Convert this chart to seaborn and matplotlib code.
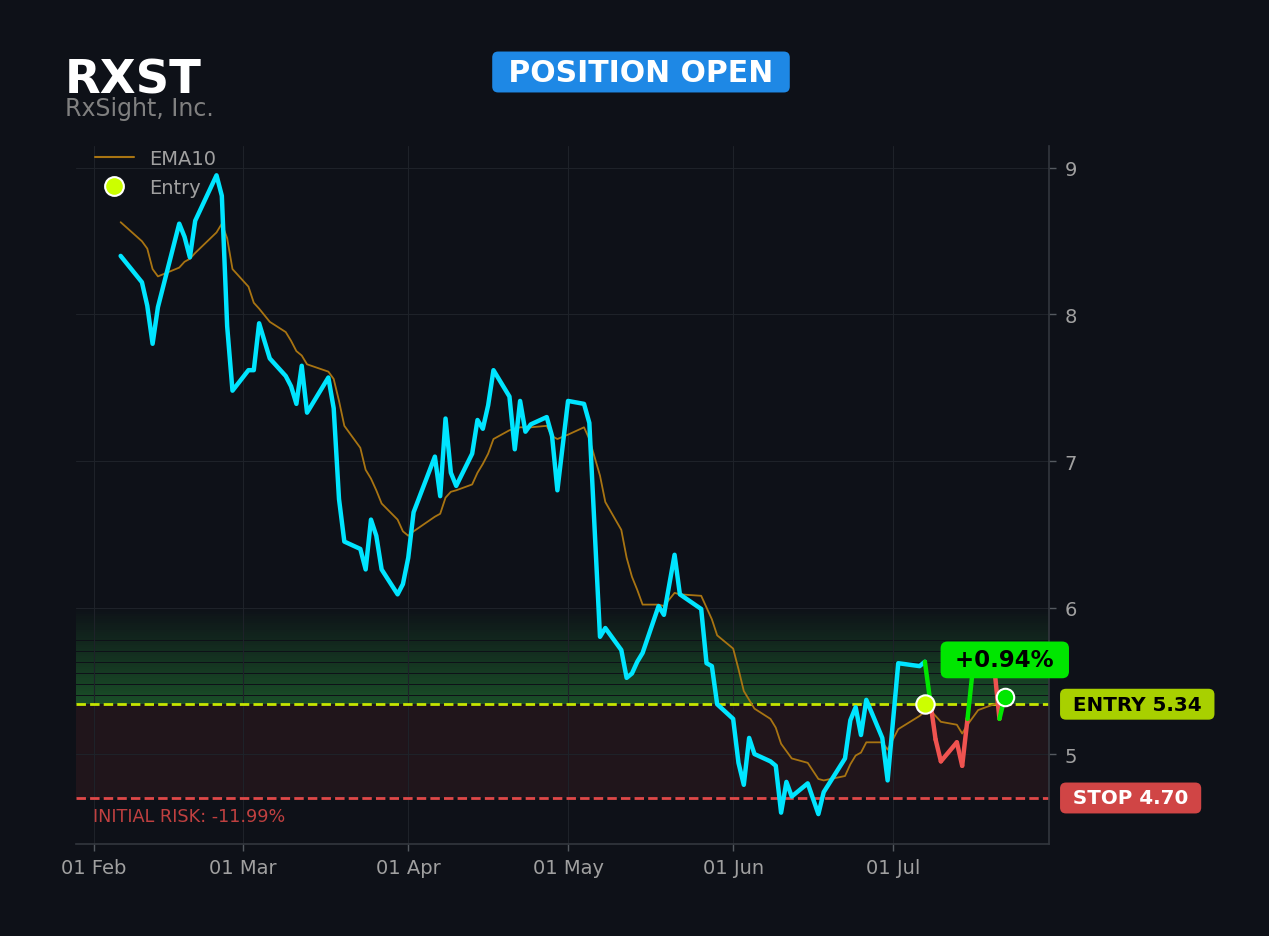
import numpy as np
import pandas as pd
import matplotlib
matplotlib.use('Agg')
import matplotlib.pyplot as plt
import matplotlib.dates as mdates
from matplotlib.lines import Line2D
import seaborn as sns

# ---------------- data ----------------
ticker = "RXST"
company = "RxSight, Inc."
status = "POSITION OPEN"
base_date = "2025-02-01"          # day offsets below are counted from this date

close_day = [5, 9, 10, 11, 12, 16, 17, 18, 19, 23, 24, 25, 26, 29, 30, 31, 33,
             36, 37, 38, 39, 40, 44, 45, 46, 47, 50, 51, 52, 53, 54, 57, 58, 59, 60,
             64, 65, 66, 67, 68, 71, 72, 73, 74, 75, 78, 79, 80, 81, 82, 85, 86, 87, 89,
             92, 93, 95, 96, 99, 100, 101, 102, 103, 106, 107, 109, 110, 114, 115, 116, 117,
             120, 121, 122, 123, 124, 127, 128, 129, 130, 131, 134, 136, 137,
             141, 142, 143, 144, 145, 148, 149, 151, 155, 156, 157, 158, 159,
             162, 163, 164, 165, 166, 169, 170, 171]

close = [8.40, 8.22, 8.06, 7.80, 8.05, 8.62, 8.53, 8.39, 8.64, 8.95, 8.81, 7.92, 7.48,
         7.62, 7.62, 7.94, 7.70, 7.58, 7.51, 7.39, 7.65, 7.33, 7.57, 7.36, 6.74, 6.45,
         6.40, 6.26, 6.60, 6.49, 6.26, 6.09, 6.16, 6.34, 6.65, 7.03, 6.76, 7.29, 6.92, 6.83,
         7.05, 7.28, 7.22, 7.38, 7.62, 7.44, 7.08, 7.41, 7.20, 7.25, 7.30, 7.17, 6.80, 7.41,
         7.39, 7.26, 5.80, 5.86, 5.71, 5.52, 5.55, 5.63, 5.69, 6.01, 5.95, 6.36, 6.09,
         5.99, 5.62, 5.60, 5.34, 5.24, 4.94, 4.79, 5.11, 5.00, 4.95, 4.92, 4.60, 4.81, 4.71,
         4.80, 4.59, 4.74, 4.97, 5.23, 5.32, 5.13, 5.37, 5.11, 4.82, 5.62,
         5.60, 5.63, 5.36, 5.10, 4.95, 5.08, 4.92, 5.24, 5.58, 5.55, 5.60, 5.24, 5.39]

ema10 = [8.63, 8.50, 8.45, 8.31, 8.26, 8.32, 8.36, 8.38, 8.42, 8.56, 8.62, 8.52, 8.31,
         8.19, 8.08, 8.04, 7.95, 7.88, 7.82, 7.75, 7.72, 7.66, 7.61, 7.56, 7.41, 7.24,
         7.09, 6.94, 6.88, 6.80, 6.71, 6.60, 6.52, 6.49, 6.52, 6.62, 6.64, 6.75, 6.79, 6.80,
         6.84, 6.92, 6.98, 7.05, 7.15, 7.21, 7.22, 7.23, 7.23, 7.23, 7.24, 7.17, 7.15, 7.18,
         7.23, 7.15, 6.90, 6.72, 6.53, 6.34, 6.21, 6.12, 6.02, 6.02, 6.01, 6.10, 6.09,
         6.08, 6.00, 5.92, 5.81, 5.72, 5.58, 5.43, 5.37, 5.31, 5.24, 5.18, 5.07, 5.02, 4.97,
         4.94, 4.83, 4.82, 4.85, 4.93, 4.99, 5.01, 5.08, 5.08, 5.03, 5.17,
         5.26, 5.29, 5.30, 5.26, 5.22, 5.20, 5.14, 5.20, 5.25, 5.30, 5.34, 5.35, 5.36]

entry_day = 156
entry_price = 5.34
stop_price = 4.70
target_price = 6.00
y_ticks = [5, 6, 7, 8, 9]

# ---------------- style ----------------
BG = '#0e1118'
CYAN = '#00e5ff'
EMA_C = '#a87412'
GREEN = '#00e600'
RED = '#ef5350'
ENTRY_C = '#c6e600'
STOP_C = '#e04848'
TXT = '#a0a0a0'

sns.set_theme(style='dark', rc={
    'figure.facecolor': BG, 'axes.facecolor': BG, 'savefig.facecolor': BG,
    'text.color': TXT, 'axes.labelcolor': TXT,
    'xtick.color': TXT, 'ytick.color': TXT,
})
plt.rcParams['font.family'] = ['DejaVu Sans']

base = pd.Timestamp(base_date)
df = pd.DataFrame({
    'date': base + pd.to_timedelta(close_day, unit='D'),
    'close': close,
    'ema': ema10,
})
entry_date = base + pd.Timedelta(days=entry_day)

W, H = 1269, 937
fig = plt.figure(figsize=(W / 100, H / 100), dpi=100, facecolor=BG)
ax = fig.add_axes([76 / W, 1 - 845 / H, (1049 - 76) / W, (845 - 147) / H])
ax.set_facecolor(BG)

# zones
n = 44
edges = np.linspace(entry_price, target_price, n + 1)
for k in range(n):
    ax.axhspan(edges[k], edges[k + 1] - 0.0012, color='#2fb844',
               alpha=0.37 * (1 - k / n), lw=0, zorder=0.5)
ax.axhspan(stop_price, entry_price, color='#e64646', alpha=0.088, lw=0, zorder=0.5)

ax.axhline(entry_price, color=ENTRY_C, lw=2, ls=(0, (3.4, 1.5)), zorder=2)
ax.axhline(stop_price, color=STOP_C, lw=2, ls=(0, (3.4, 1.5)), zorder=2)

# EMA and price
sns.lineplot(data=df, x='date', y='ema', ax=ax, color=EMA_C, lw=1.3,
             legend=False, zorder=3)
pre = df[df['date'] <= entry_date]
sns.lineplot(data=pre, x='date', y='close', ax=ax, color=CYAN, lw=3.2,
             legend=False, zorder=4)

post = df[df['date'] >= entry_date].reset_index(drop=True)
for i in range(len(post) - 1):
    seg = post.iloc[i:i + 2]
    col = GREEN if seg['close'].iloc[1] >= entry_price else RED
    ax.plot(seg['date'], seg['close'], color=col, lw=3.2, zorder=5)

ax.scatter([entry_date], [entry_price], s=175, color='#ccff00', edgecolor='white',
           linewidth=1.5, zorder=7)
last_date = df['date'].iloc[-1]
last_close = df['close'].iloc[-1]
ax.scatter([last_date], [last_close], s=158, color=GREEN, edgecolor='white',
           linewidth=1.5, zorder=7)

pnl = (last_close / entry_price - 1) * 100
ax.annotate(f" {pnl:+.2f}% ", xy=(last_date, last_close), xytext=(0, 37),
            textcoords='offset pixels', ha='center', va='center', fontsize=16.5,
            fontweight='bold', color='black', zorder=9, annotation_clip=False,
            bbox=dict(boxstyle='round,pad=0.3,rounding_size=0.3', fc=GREEN, ec='none'))

ax.annotate(f" ENTRY {entry_price:.2f} ", xy=(1, entry_price),
            xycoords=('axes fraction', 'data'), xytext=(17, 0), textcoords='offset pixels',
            ha='left', va='center', fontsize=14.3, fontweight='bold', color='black',
            annotation_clip=False,
            bbox=dict(boxstyle='round,pad=0.3,rounding_size=0.3', fc='#a8d000', ec='none'))
ax.annotate(f" STOP {stop_price:.2f} ", xy=(1, stop_price),
            xycoords=('axes fraction', 'data'), xytext=(17, 0), textcoords='offset pixels',
            ha='left', va='center', fontsize=14.3, fontweight='bold', color='white',
            annotation_clip=False,
            bbox=dict(boxstyle='round,pad=0.3,rounding_size=0.3', fc='#d04545', ec='none'))

risk = (stop_price / entry_price - 1) * 100
ax.annotate(f"INITIAL RISK: {risk:.2f}%", xy=(0.0175, stop_price),
            xycoords=('axes fraction', 'data'), xytext=(0, -18), textcoords='offset pixels',
            ha='left', va='center', fontsize=12.7, color='#c04040')

# axes cosmetics
ax.set_xlim(base - pd.Timedelta(days=3.38), base + pd.Timedelta(days=179.3))
ax.set_ylim(4.386, 9.15)
ax.set_yticks(y_ticks)
ax.yaxis.tick_right()
ax.xaxis.set_major_locator(mdates.MonthLocator())
ax.xaxis.set_major_formatter(mdates.DateFormatter('%d %b'))
ax.set_xlabel('')
ax.set_ylabel('')
ax.grid(True, color='#1e2229', lw=0.8, zorder=0)
ax.set_axisbelow(True)
for s in ['left', 'top']:
    ax.spines[s].set_visible(False)
for s in ['right', 'bottom']:
    ax.spines[s].set_visible(True)
    ax.spines[s].set_color('#33373e')
    ax.spines[s].set_linewidth(1.2)
ax.tick_params(axis='both', which='major', length=5, width=1, color='#555a60',
               labelcolor=TXT, labelsize=14, bottom=True, right=True, left=False)
ax.tick_params(axis='y', pad=6)
ax.tick_params(axis='x', pad=5)

handles = [Line2D([], [], color=EMA_C, lw=1.5),
           Line2D([], [], marker='o', ls='', markerfacecolor='#ccff00',
                  markeredgecolor='white', markeredgewidth=1.5, markersize=13.5)]
leg = ax.legend(handles, ['EMA10', 'Entry'], loc='upper left',
                bbox_to_anchor=(0.0115, 1.0065), borderaxespad=0, frameon=False,
                fontsize=14, labelcolor=TXT, handlelength=2.0, handletextpad=0.8)

# titles
fig.text(65 / W, 1 - 94 / H, ticker, fontsize=33.5, fontweight='bold', color='white',
         ha='left', va='baseline')
fig.text(65 / W, 1 - 116 / H, company, fontsize=17, color='#808080',
         ha='left', va='baseline')
fig.text(641 / W, 1 - 73 / H, f" {status} ", fontsize=21.5, fontweight='bold',
         color='white', ha='center', va='center',
         bbox=dict(boxstyle='round,pad=0.2,rounding_size=0.2', fc='#1e88e5', ec='none'))

fig.savefig('out.png', dpi=100, facecolor=BG)
